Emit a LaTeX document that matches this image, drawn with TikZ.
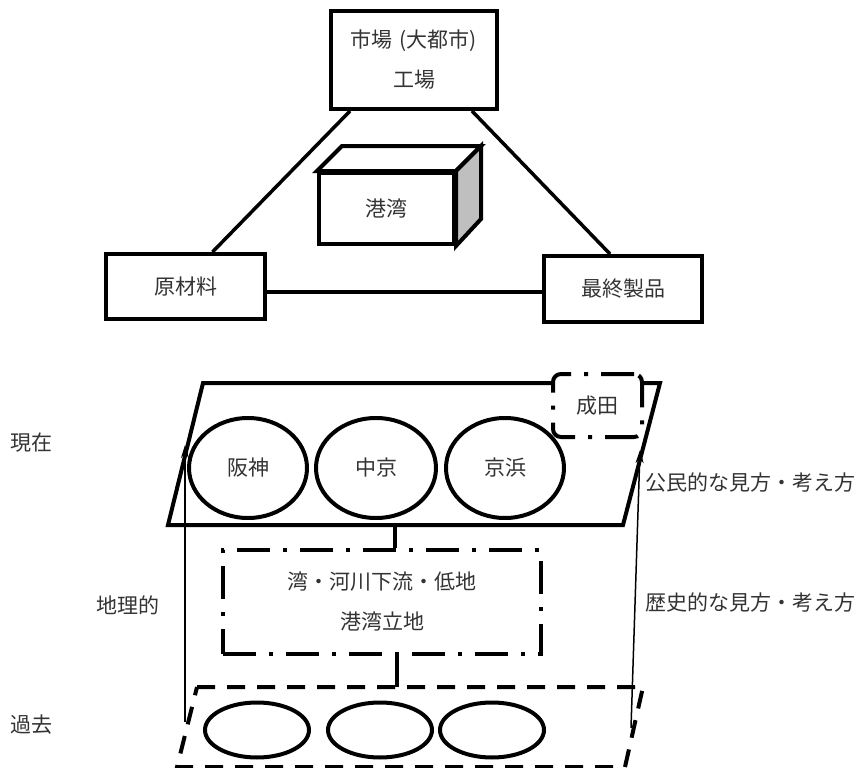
\documentclass[tikz,border=0pt]{standalone}
\usepackage{fontspec}
\setmainfont{Noto Sans CJK JP}
\usetikzlibrary{calc,arrows.meta,shapes.geometric}
\begin{document}
\begin{tikzpicture}[x=1pt,y=-1pt,
  lab/.style={font=\fontsize{21}{40}\selectfont,text=black!80,align=center},
  tbox/.style={draw,line width=4pt,inner sep=0pt,fill=white,lab},
  link/.style={line width=3.5pt},
  vlink/.style={line width=4pt},
  ell/.style={draw,ellipse,line width=4pt,inner sep=0pt,lab},
  dashdotline/.style={line width=4pt,dash pattern=on 33pt off 13pt on 4pt off 13pt},
  dashline/.style={line width=4pt,dash pattern=on 18pt off 12pt},
  arr/.style={line width=1.5pt,-{Stealth[length=13pt,width=8pt]}}]
\useasboundingbox (0,0) rectangle (863,768);

% top triangle
\node[tbox,minimum width=166pt,minimum height=98pt] (mkt) at (414,60) {市場\hspace{7pt}(大都市)\\工場};
\node[tbox,minimum width=159pt,minimum height=65pt] (raw) at (185.5,286.5) {原材料};
\node[tbox,minimum width=158pt,minimum height=66pt] (prod) at (623,289) {最終製品};
\draw[link] ($(mkt.south west)+(21,0)$) -- ($(raw.north)+(27,0)$);
\draw[link] ($(mkt.south east)+(-27,0)$) -- ($(prod.north)+(-13,0)$);
\draw[link] (raw.east |- 0,292) -- (prod.west |- 0,292);

% cube
\node[tbox,minimum width=135pt,minimum height=71pt] (port) at (386.5,208.5) {港湾};
\draw[line width=4pt,fill=white] (port.north west) -- ($(port.north west)+(25,-25)$) -- ($(port.north east)+(25,-25)$) -- (port.north east) -- cycle;
\draw[line width=4pt,fill=gray!50] (port.north east) -- ($(port.north east)+(25,-25)$) -- ($(port.south east)+(25,-27)$) -- (port.south east) -- cycle;

% present plane
\draw[line width=4pt] (203,383) coordinate (p1) -- (660,383) coordinate (p2) -- (623,525) coordinate (p3) -- (168,525) coordinate (p4) -- cycle;
\node[tbox,dashdotline,rounded corners=8pt,minimum width=89pt,minimum height=63pt] (nrt) at (597.5,405.5) {成田};
\node[ell,minimum width=118pt,minimum height=100pt] (hs) at (248,468) {阪神};
\node[ell,minimum width=120pt,minimum height=100pt] (ck) at (376,468) {中京};
\node[ell,minimum width=118pt,minimum height=100pt] (kh) at (505,468) {京浜};

% middle box
\node[draw,dashdotline,minimum width=318pt,minimum height=104pt,lab] (mid) at (382,602) {湾・河川下流・低地\\港湾立地};
\coordinate (pb) at (395,525);
\draw[vlink] (pb) -- (pb |- mid.north);

% past plane
\draw[dashline] (197,687) coordinate (q1) -- (643,687) coordinate (q2) -- (625,767) coordinate (q3) -- (177,767) coordinate (q4) -- cycle;
\coordinate (lt) at (397,687);
\draw[vlink] (lt |- mid.south) -- (lt);
\node[ell,minimum width=104pt,minimum height=55pt] (e1) at (257,730) {};
\node[ell,minimum width=104pt,minimum height=55pt] (e2) at (380,730) {};
\node[ell,minimum width=104pt,minimum height=55pt] (e3) at (492,730) {};

% arrows
\coordinate (ga0) at (185,722);
\coordinate (ga1) at (185,445);
\draw[arr] (ga0) -- (ga1);
\coordinate (ha0) at (631,728);
\coordinate (ha1) at (640,450);
\draw[arr] (ha0) -- (ha1);

% labels
\node[lab] (now) at (31,443) {現在};
\node[lab] (past) at (31,725) {過去};
\node[lab] (geo) at (128,605) {地理的};
\node[lab] (civ) at (750,483) {公民的な見方・考え方};
\node[lab] (hist) at (750,603) {歴史的な見方・考え方};
\end{tikzpicture}
\end{document}
